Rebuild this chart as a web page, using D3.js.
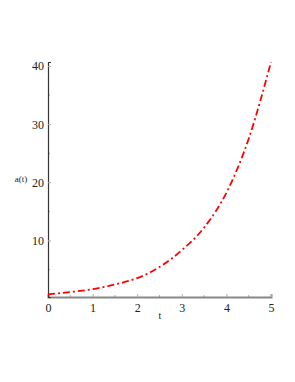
<!DOCTYPE html>
<html>
<head>
<meta charset="utf-8">
<script src="https://cdn.jsdelivr.net/npm/d3@7"></script>
<style>
  body { margin: 0; background: #fff; }
  svg text { font-family: "Liberation Serif", "Times New Roman", serif; fill: #222; }
</style>
</head>
<body>
<div class="canvas"></div>
<script>
// values
const tValues = [0, 0.5, 1, 1.5, 2, 2.5, 3, 3.5, 4, 4.5, 5];
const aValues = [0.7, 1.1, 1.6, 2.4, 3.5, 5.4, 8.3, 12.2, 18.2, 27.5, 40.7];
const xTicks = [0, 1, 2, 3, 4, 5];
const yTicks = [10, 20, 30, 40];

const data = tValues.map((t, i) => ({ t: t, a: aValues[i] }));

const margin = { top: 62, right: 24, bottom: 85, left: 48 };
const width = 295;
const height = 382;
const graphWidth = width - margin.left - margin.right;
const graphHeight = height - margin.top - margin.bottom;

const svg = d3
  .select(".canvas")
  .append("svg")
  .attr("width", width)
  .attr("height", height);

const graph = svg
  .append("g")
  .attr("transform", `translate(${margin.left},${margin.top})`);

//scales
const x = d3.scaleLinear().domain([0, 5]).range([0, graphWidth]);
const y = d3.scaleLinear().domain([0.25, 40.7]).range([graphHeight, 0]);

//minor ticks
const xMinor = d3.range(0.5, 5, 1);
const yMinor = d3.range(5, 40, 10);

graph
  .append("g")
  .selectAll("line")
  .data(xMinor)
  .enter()
  .append("line")
  .attr("x1", (d) => x(d))
  .attr("x2", (d) => x(d))
  .attr("y1", graphHeight)
  .attr("y2", graphHeight - 2)
  .attr("stroke", "#aaa");

graph
  .append("g")
  .selectAll("line")
  .data(yMinor)
  .enter()
  .append("line")
  .attr("x1", 0)
  .attr("x2", 2)
  .attr("y1", (d) => y(d))
  .attr("y2", (d) => y(d))
  .attr("stroke", "#aaa");

//axes
const xAxis = d3
  .axisBottom(x)
  .tickValues(xTicks)
  .tickFormat(d3.format("d"))
  .tickSize(-3)
  .tickPadding(6);
const yAxis = d3
  .axisLeft(y)
  .tickValues(yTicks)
  .tickFormat(d3.format("d"))
  .tickSize(-3)
  .tickPadding(4);

const xAxisGroup = graph
  .append("g")
  .attr("transform", `translate(0,${graphHeight})`)
  .call(xAxis);

const yAxisGroup = graph.append("g").call(yAxis);

xAxisGroup.select(".domain").attr("stroke", "#888").attr("stroke-width", 2);
yAxisGroup.select(".domain").attr("stroke", "#333").attr("stroke-width", 1.2);
graph.selectAll(".tick line").attr("stroke", "#aaa");
graph
  .selectAll(".tick text")
  .attr("font-family", null)
  .style("font-size", "12px")
  .attr("fill", "#222");

//axis labels
svg
  .append("text")
  .attr("x", 160)
  .attr("y", 319)
  .attr("text-anchor", "middle")
  .style("font-size", "10px")
  .text("t");

svg
  .append("text")
  .attr("x", 21)
  .attr("y", 182)
  .attr("text-anchor", "middle")
  .style("font-size", "9px")
  .text("a(t)");

//curve
const line = d3
  .line()
  .curve(d3.curveMonotoneX)
  .x((d) => x(d.t))
  .y((d) => y(d.a));

graph
  .append("path")
  .datum(data)
  .attr("fill", "none")
  .attr("stroke", "#ff0000")
  .attr("stroke-width", 1.8)
  .attr("stroke-dasharray", "7,3,2,3")
  .attr("d", line);
</script>
</body>
</html>
